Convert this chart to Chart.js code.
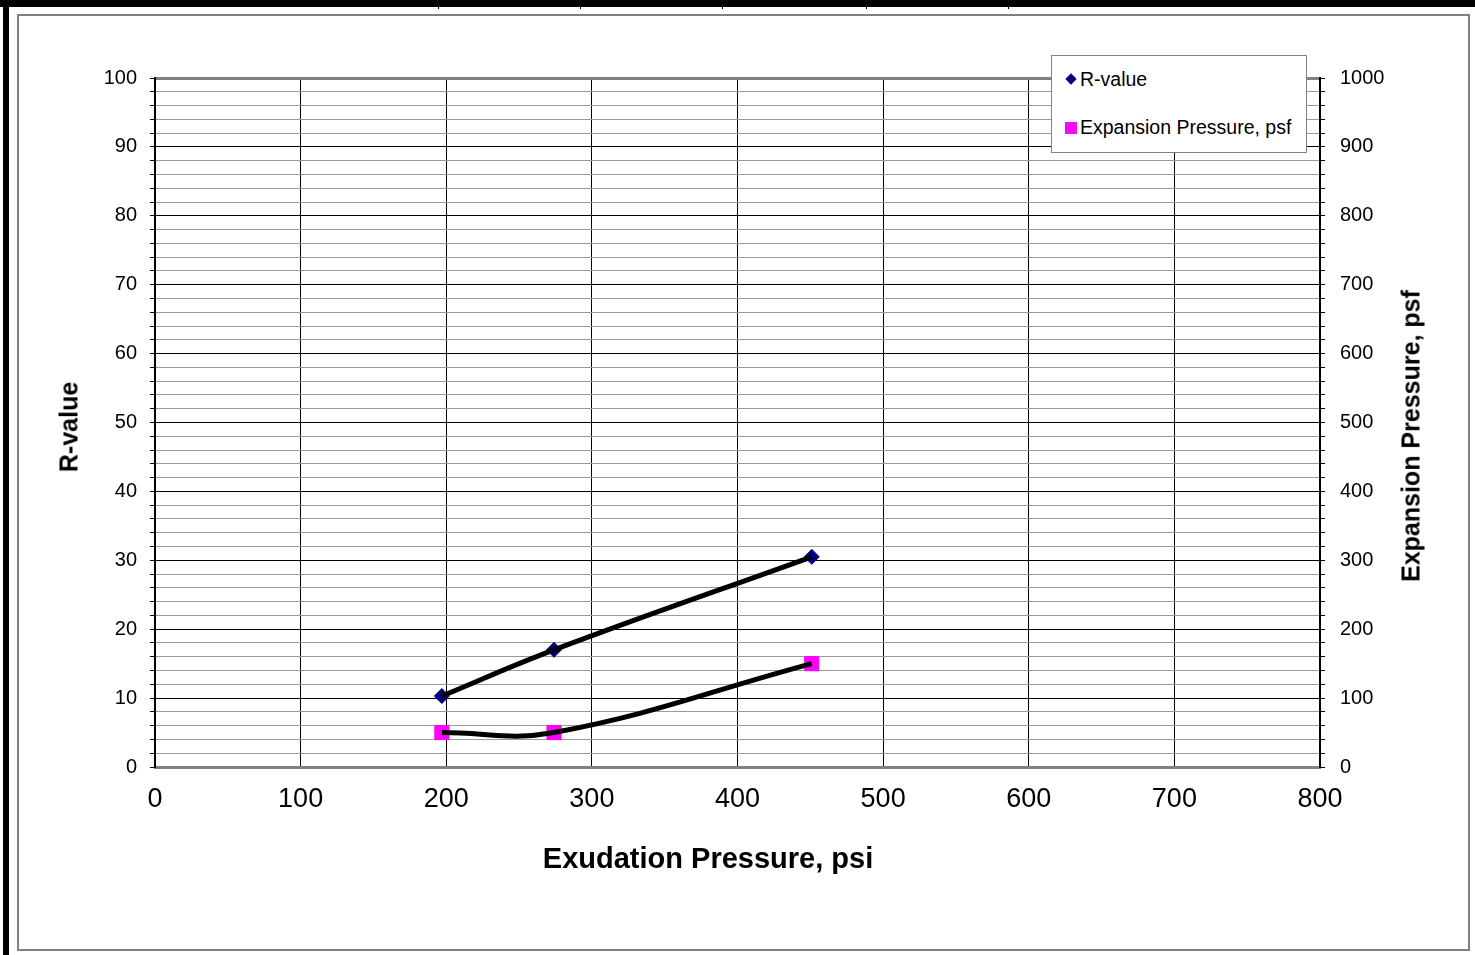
<!DOCTYPE html>
<html>
<head>
<meta charset="utf-8">
<script src="https://cdn.jsdelivr.net/npm/chart.js@4/dist/chart.umd.min.js"></script>
<style>
  html, body { margin: 0; padding: 0; background: #fff; }
  body { width: 1475px; height: 955px; position: relative; overflow: hidden; font-family: Arial, "Liberation Sans", sans-serif; }
  #topbar { position: absolute; left: 0; top: 0; width: 1475px; height: 7px; background: #000; }
  .notch { position: absolute; top: 7px; width: 1px; height: 2px; background: #000; }
  #leftbar { position: absolute; left: 3px; top: 0; width: 6px; height: 955px; background: #000; }
  #frame { position: absolute; left: 17px; top: 14px; width: 1453px; height: 937px; box-sizing: border-box; border: 2px solid #808080; }
  #chart { position: absolute; left: 0; top: 0; }
  .title { position: absolute; font-weight: bold; color: #000; line-height: 1; white-space: nowrap; }
  #xTitle { left: 708px; top: 858px; font-size: 29px; transform: translate(-50%, -50%); }
  #yTitle { left: 69px; top: 427px; font-size: 25px; transform: translate(-50%, -50%) rotate(-90deg); }
  #y1Title { left: 1411px; top: 436px; font-size: 25px; transform: translate(-50%, -50%) rotate(-90deg); }
  #legend { position: absolute; left: 1051px; top: 55px; width: 256px; height: 98px; box-sizing: border-box; border: 1px solid #808080; background: #fff; }
  .lg-text { position: absolute; left: 28px; font-size: 19.5px; line-height: 1; transform: translateY(-50%); white-space: nowrap; }
  .lg-diamond { position: absolute; left: 15px; top: 19px; width: 8px; height: 8px; background: #000080; transform: rotate(45deg); }
  .lg-square { position: absolute; left: 13px; top: 66px; width: 12px; height: 12px; background: #ff00ff; }
</style>
</head>
<body>
<div id="topbar"></div>
<div class="notch" style="left:438px"></div>
<div class="notch" style="left:580px"></div>
<div class="notch" style="left:722px"></div>
<div class="notch" style="left:866px"></div>
<div class="notch" style="left:1008px"></div>
<div id="leftbar"></div>
<div id="frame"></div>
<canvas id="chart" width="1475" height="955"></canvas>
<div id="xTitle" class="title">Exudation Pressure, psi</div>
<div id="yTitle" class="title">R-value</div>
<div id="y1Title" class="title">Expansion Pressure, psf</div>
<div id="legend">
  <span class="lg-diamond"></span><span class="lg-text" style="top:24px">R-value</span>
  <span class="lg-square"></span><span class="lg-text" style="top:72px">Expansion Pressure, psf</span>
</div>
<script>
// test results
const exudationPsi = [197, 274, 451];
const rValues = [10.3, 17.0, 30.5];
const expansionPsf = [50, 50, 150];

// axis ranges
const xRange = [0, 800];
const rRange = [0, 100];
const psfRange = [0, 1000];

const toPoints = (xs, ys) => xs.map((x, i) => ({ x, y: ys[i] }));
const isMajor = (v, every) => Math.round(v) % every === 0;
const axisFont = size => ({ family: 'Arial, "Liberation Sans"', size });

const ctx = document.getElementById('chart');
new Chart(ctx, {
  type: 'scatter',
  data: {
    datasets: [
      // smooth trend lines, drawn over the markers
      { data: toPoints(exudationPsi, rValues), yAxisID: 'y', showLine: true, tension: 0.4,
        borderColor: '#000', borderWidth: 5, pointRadius: 0, order: 0 },
      { data: toPoints(exudationPsi, expansionPsf), yAxisID: 'y1', showLine: true, tension: 0.4,
        borderColor: '#000', borderWidth: 5, pointRadius: 0, order: 0 },
      // markers
      { label: 'R-value', data: toPoints(exudationPsi, rValues), yAxisID: 'y',
        pointStyle: 'rectRot', pointRadius: 7.5, backgroundColor: '#000080', borderColor: '#000080', borderWidth: 1, order: 1 },
      { label: 'Expansion Pressure, psf', data: toPoints(exudationPsi, expansionPsf), yAxisID: 'y1',
        pointStyle: 'rect', pointRadius: 10, backgroundColor: '#ff00ff', borderColor: '#ff00ff', borderWidth: 1, order: 1 }
    ]
  },
  options: {
    responsive: false,
    animation: false,
    events: [],
    layout: { padding: { top: 78, left: 0, right: 0, bottom: 0 } },
    plugins: { legend: { display: false }, tooltip: { enabled: false } },
    scales: {
      x: {
        type: 'linear', min: xRange[0], max: xRange[1],
        ticks: { stepSize: 100, color: '#000', padding: 16, font: axisFont(27) },
        grid: { color: '#000', lineWidth: 1, drawTicks: false },
        border: { color: '#808080', width: 3 },
        afterFit: s => { s.height = 188; }
      },
      y: {
        position: 'left', min: rRange[0], max: rRange[1],
        ticks: {
          stepSize: 2, autoSkip: false, color: '#000', padding: 13, font: axisFont(20),
          callback: v => isMajor(v, 10) ? v : ''
        },
        grid: {
          color: c => Math.round(c.tick.value) === 100 ? '#808080' : (isMajor(c.tick.value, 10) ? '#000' : '#9a9a9a'),
          lineWidth: c => Math.round(c.tick.value) === 100 ? 3 : 1,
          tickLength: 5, tickColor: '#000', tickWidth: 1
        },
        border: { color: '#000', width: 2 },
        afterFit: s => { s.width = 155; }
      },
      y1: {
        position: 'right', min: psfRange[0], max: psfRange[1],
        ticks: {
          stepSize: 20, autoSkip: false, color: '#000', padding: 15, font: axisFont(20),
          callback: v => isMajor(v, 100) ? v : ''
        },
        grid: { drawOnChartArea: false, tickLength: 5, tickColor: '#000', tickWidth: 1 },
        border: { color: '#000', width: 2 },
        afterFit: s => { s.width = 155; }
      }
    }
  }
});
</script>
</body>
</html>
